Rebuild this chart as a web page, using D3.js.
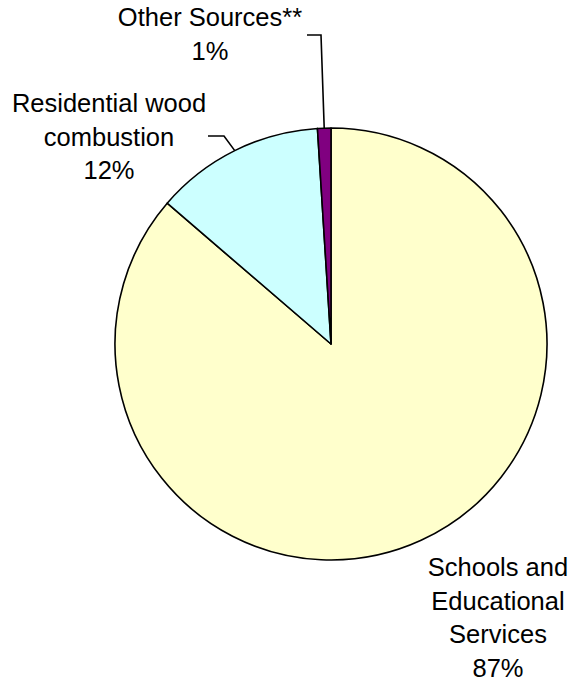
<!DOCTYPE html>
<html>
<head>
<meta charset="utf-8">
<script src="https://cdn.jsdelivr.net/npm/d3@7"></script>
<style>
  html, body { margin: 0; padding: 0; background: #ffffff; }
  svg { display: block; }
  text { font-family: "Liberation Sans", Arial, sans-serif; fill: #000; }
</style>
</head>
<body>
<svg id="chart" width="572" height="682"></svg>
<script>
// ---- data (clockwise from 12 o'clock) ----
const categories = ["Schools and Educational Services", "Residential wood combustion", "Other Sources**"];
const values = [86.3, 12.7, 1.0];
const percentLabels = ["87%", "12%", "1%"];
const labelLines = [
  ["Schools and", "Educational", "Services"],
  ["Residential wood", "combustion"],
  ["Other Sources**"]
];
const colors = ["#FFFFCC", "#CCFFFF", "#800080"];

// ---- layout ----
const W = 572, H = 682;
const cx = 331, cy = 344, R = 216;
const fontSize = 25.5, lineH = 33.5;
// label anchor: x center, first baseline
const labelAnchor = [
  { x: 498, y: 576 },
  { x: 109, y: 112 },
  { x: 210, y: 26 }
];
// leader elbow points (label side), null = no leader
const leaderElbow = [
  null,
  [[208, 136], [224, 136]],
  [[307, 35], [321, 35]]
];

const svg = d3.select("#chart");
const g = svg.append("g").attr("transform", `translate(${cx},${cy})`);

const data = categories.map((c, i) => ({ cat: c, value: values[i], idx: i }));
const pie = d3.pie().sort(null).value(d => d.value).startAngle(0).endAngle(2 * Math.PI);
const arcs = pie(data);
const arc = d3.arc().innerRadius(0).outerRadius(R);

g.selectAll("path.slice")
  .data(arcs)
  .join("path")
  .attr("class", "slice")
  .attr("d", arc)
  .attr("fill", d => colors[d.data.idx])
  .attr("stroke", "#000")
  .attr("stroke-width", 1.6)
  .attr("stroke-linejoin", "round");

// leader lines
arcs.forEach(a => {
  const el = leaderElbow[a.data.idx];
  if (!el) return;
  const mid = (a.startAngle + a.endAngle) / 2;
  const px = cx + R * Math.sin(mid), py = cy - R * Math.cos(mid);
  const pts = [...el, [px, py]];
  svg.append("path")
    .attr("d", d3.line()(pts))
    .attr("fill", "none")
    .attr("stroke", "#000")
    .attr("stroke-width", 1.6);
});

// labels
arcs.forEach(a => {
  const i = a.data.idx;
  const lines = [...labelLines[i], percentLabels[i]];
  const t = svg.append("text")
    .attr("text-anchor", "middle")
    .attr("font-size", fontSize);
  lines.forEach((ln, k) => {
    t.append("tspan")
      .attr("x", labelAnchor[i].x)
      .attr("y", labelAnchor[i].y + k * lineH)
      .text(ln);
  });
});
</script>
</body>
</html>
